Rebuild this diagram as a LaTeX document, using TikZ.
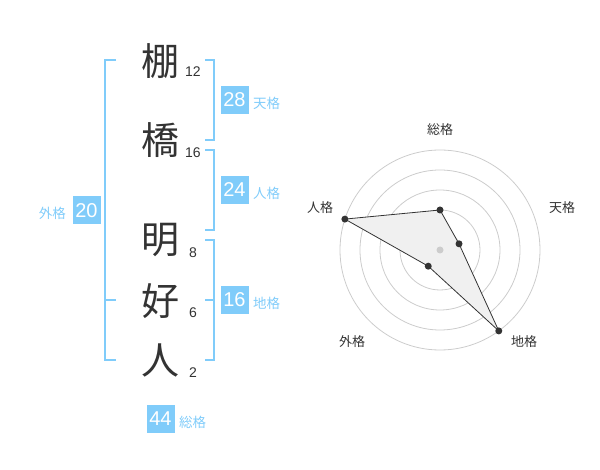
\documentclass[tikz,border=0pt]{standalone}
\usepackage{fontspec}
\setmainfont{Liberation Sans}
\newfontfamily\jpfont{Noto Sans CJK JP}
\usepackage{tikz}
\usetikzlibrary{calc}
\definecolor{sky}{HTML}{80CCFA}
\definecolor{ink}{HTML}{333333}
\definecolor{ring}{HTML}{CCCCCC}
\definecolor{area}{HTML}{F0F0F0}
\tikzset{
  brk/.style={draw=sky, line width=2pt},
  kan/.style={text=ink, font=\jpfont\fontsize{38}{38}\selectfont, inner sep=0pt},
  strk/.style={text=ink, font=\fontsize{14}{14}\selectfont, inner sep=0pt},
  score/.style={fill=sky, text=white, minimum size=28pt, inner sep=0pt, font=\fontsize{20}{20}\selectfont},
  kaku/.style={text=sky, font=\jpfont\fontsize{13.5}{13.5}\selectfont, inner sep=0pt},
  ringl/.style={draw=ring, line width=0.8pt},
  poly/.style={draw=ink, fill=area, line width=0.8pt, line join=round},
  dot/.style={circle, fill=ink, inner sep=0pt, minimum size=7pt},
  hub/.style={circle, fill=ring, inner sep=0pt, minimum size=7pt},
  axl/.style={text=ink, font=\jpfont\fontsize{13}{13}\selectfont, inner sep=0pt},
}
\begin{document}
\begin{tikzpicture}[x=1pt,y=-1pt]
  \useasboundingbox (0,0) rectangle (600,470);

  % name and stroke counts
  \node[kan] (c1) at (160,61) {棚};
  \node[kan] (c2) at (160,140) {橋};
  \node[kan] (c3) at (160,240) {明};
  \node[kan] (c4) at (160,301) {好};
  \node[kan] (c5) at (160,360) {人};
  \node[strk] (n1) at (193,72) {12};
  \node[strk] (n2) at (193,153) {16};
  \node[strk] (n3) at (193,253) {8};
  \node[strk] (n4) at (193,313) {6};
  \node[strk] (n5) at (193,373) {2};

  % brackets
  \draw[brk] (116,60) -- (105,60) -- (105,360) -- (116,360);
  \draw[brk] (105,300) -- (116,300);
  \draw[brk] (205,60) -- (214,60) -- (214,140) -- (205,140);
  \draw[brk] (205,150) -- (214,150) -- (214,230) -- (205,230);
  \draw[brk] (205,240) -- (214,240) -- (214,360) -- (205,360);
  \draw[brk] (205,300) -- (214,300);

  % scores
  \node[score] (ten) at (234.5,100) {28};
  \node[kaku,anchor=west] at (253,103) {天格};
  \node[score] (jin) at (234.5,190) {24};
  \node[kaku,anchor=west] at (253,193) {人格};
  \node[score] (chi) at (234.5,300) {16};
  \node[kaku,anchor=west] at (253,303) {地格};
  \node[score] (gai) at (86.5,210.5) {20};
  \node[kaku,anchor=east] at (66,213.5) {外格};
  \node[score] (sou) at (160.5,419) {44};
  \node[kaku,anchor=west] at (179,422) {総格};

  % radar
  \begin{scope}[shift={(440,250)}, yscale=-1]
    \foreach \r in {20,40,60,80,100}
      \draw[ringl] (0,0) circle (\r);
    \coordinate (psou) at (90:40);
    \coordinate (pten) at (18:20);
    \coordinate (pchi) at (-54:100);
    \coordinate (pgai) at (234:20);
    \coordinate (pjin) at (162:100);
    \draw[poly] (psou) -- (pten) -- (pchi) -- (pgai) -- (pjin) -- cycle;
    \node[hub] (o) at (0,0) {};
    \foreach \p in {psou,pten,pchi,pgai,pjin}
      \node[dot] at (\p) {};
    \node[axl] at (0,120) {総格};
    \node[axl] at (122,42) {天格};
    \node[axl] at (-120,42) {人格};
    \node[axl] at (-88,-92) {外格};
    \node[axl] at (84,-92) {地格};
  \end{scope}
\end{tikzpicture}
\end{document}
